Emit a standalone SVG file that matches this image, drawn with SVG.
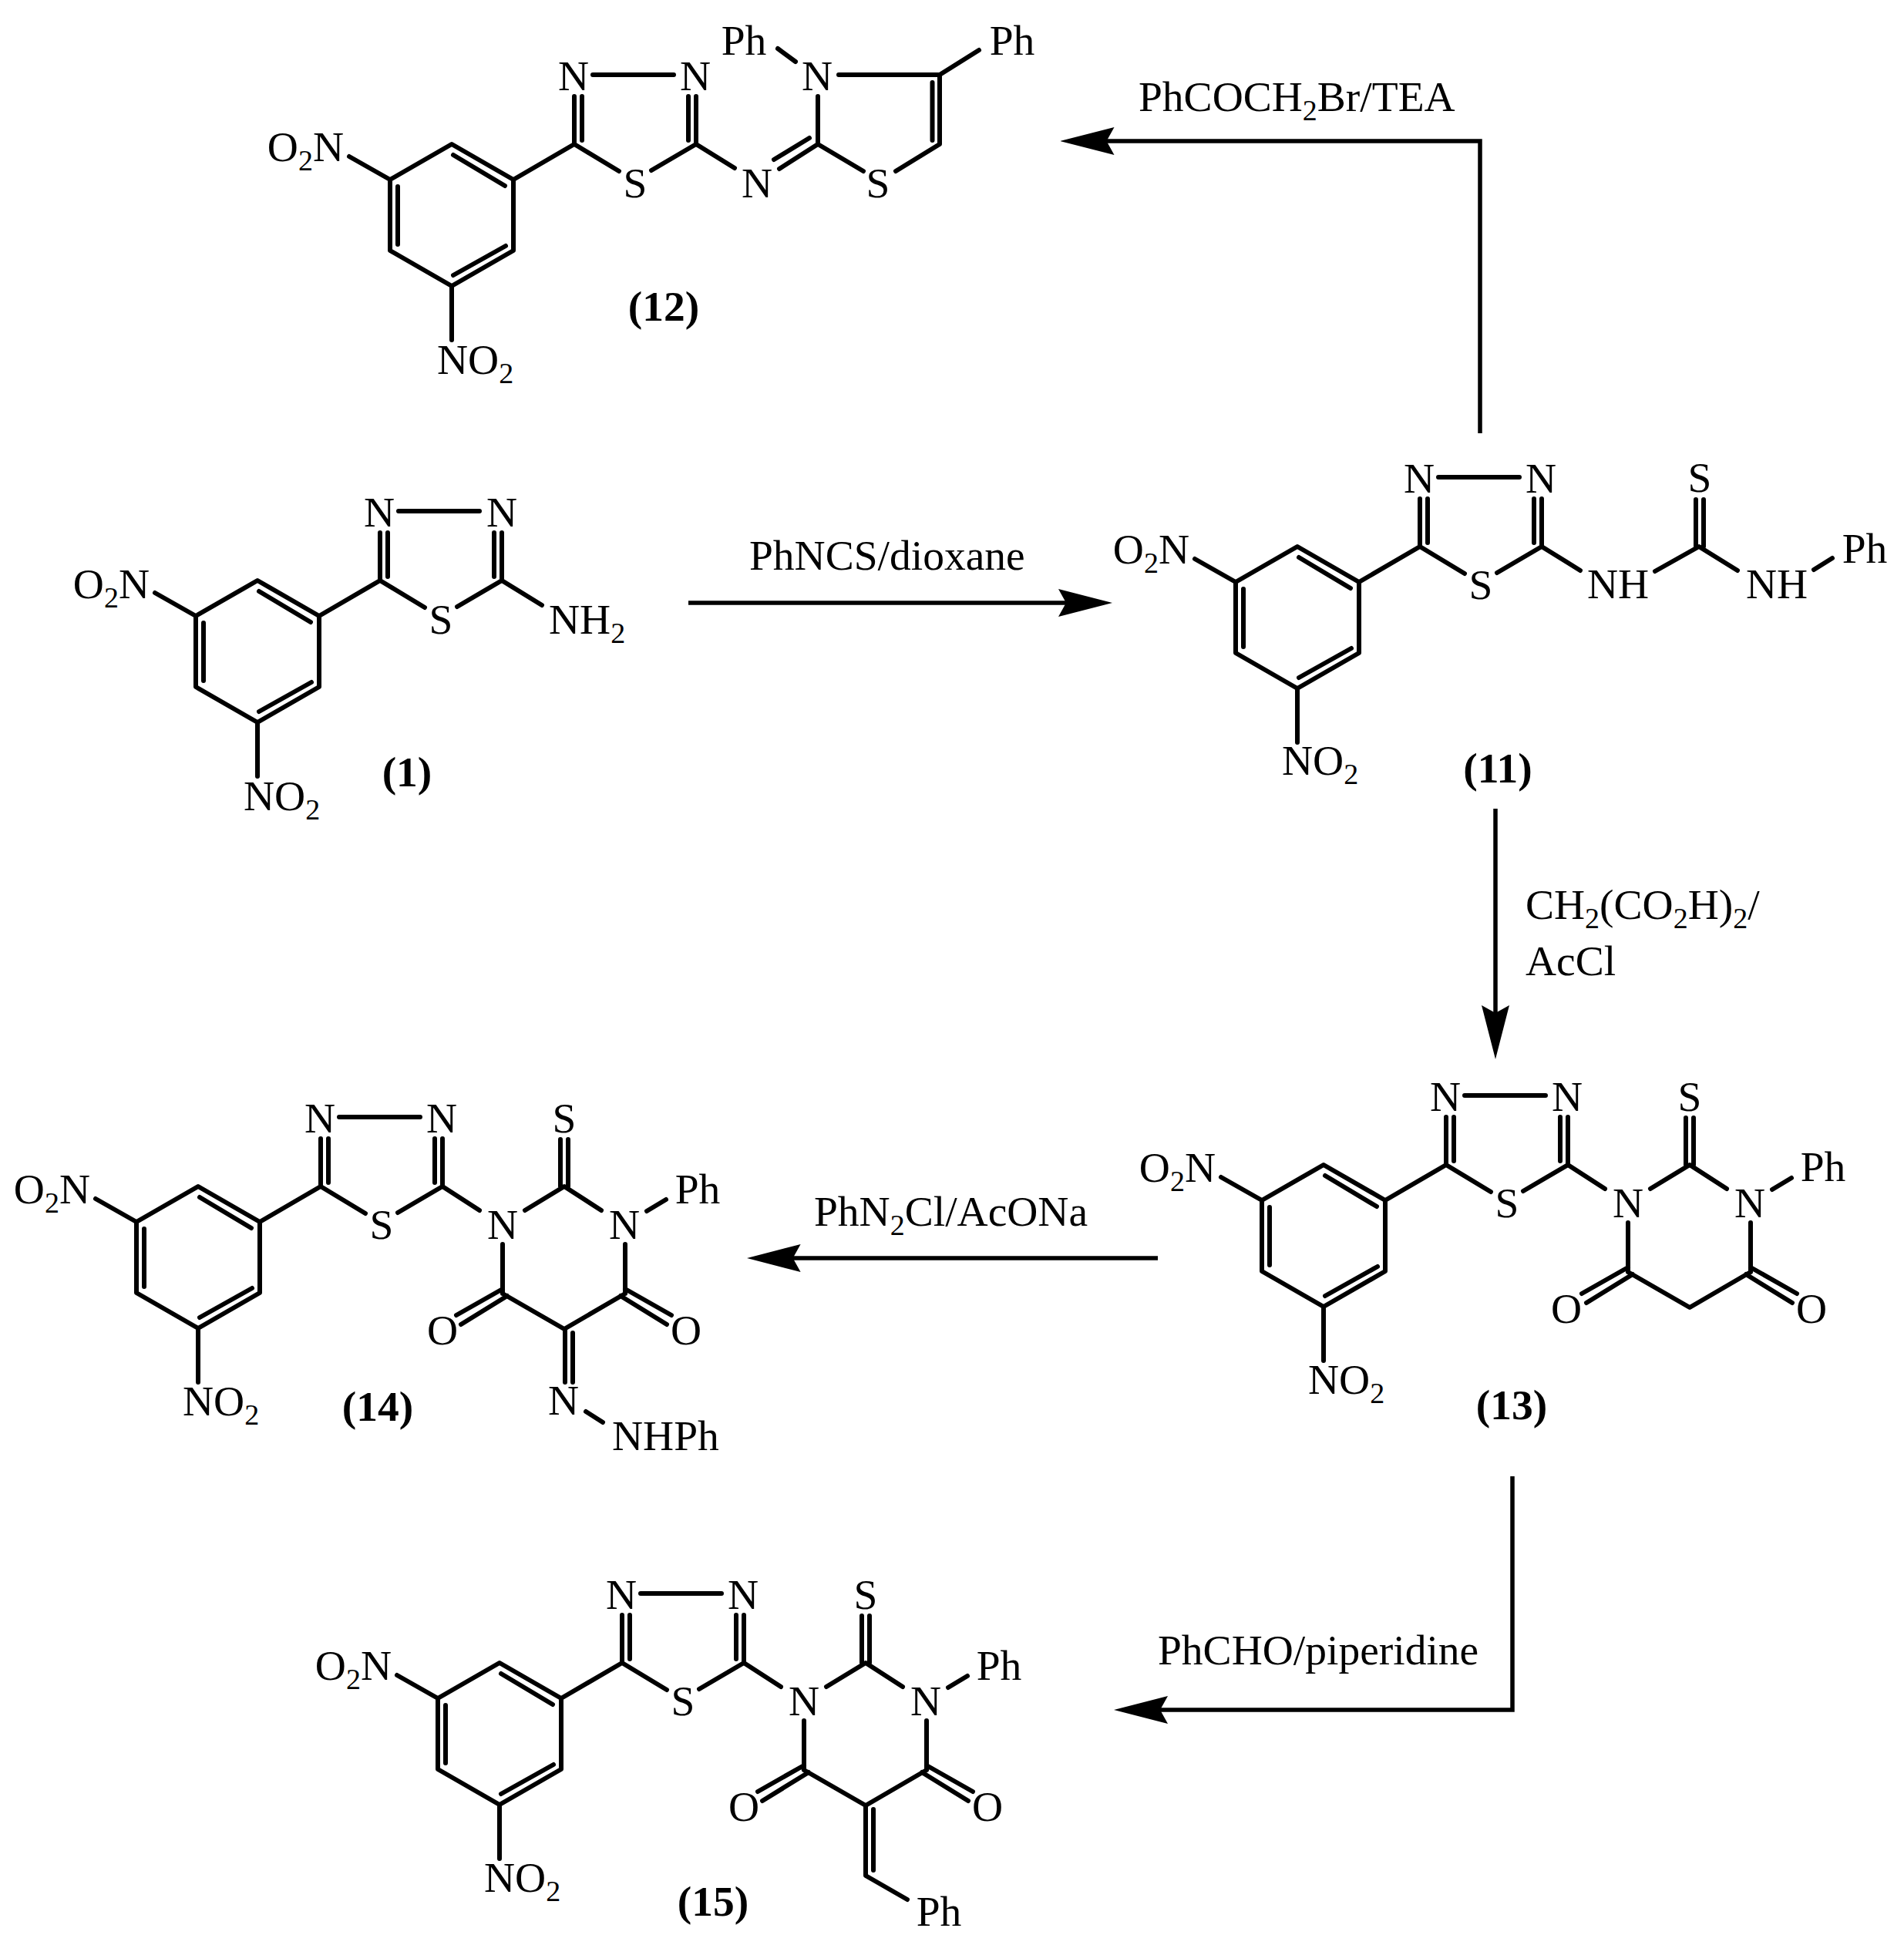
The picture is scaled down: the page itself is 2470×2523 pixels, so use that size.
<svg xmlns="http://www.w3.org/2000/svg" width="2470" height="2523" viewBox="0 0 2470 2523">
<style>
text{font-family:"Liberation Serif","Times New Roman",serif;font-size:55.5px;fill:#000}
.m{text-anchor:middle}
.e{text-anchor:end}
.l{font-weight:bold;text-anchor:middle}
.s{font-size:38px}
.b{fill:none;stroke:#000;stroke-width:6;stroke-linecap:round;stroke-linejoin:round}
.c{fill:none;stroke:#000;stroke-width:5.5;stroke-linejoin:miter}
</style>
<defs>
<marker id="arrow" markerUnits="userSpaceOnUse" viewBox="0 0 70 36" markerWidth="70" markerHeight="36" refX="12" refY="18" orient="auto"><path d="M0 0L70 18L0 36L10 18Z" fill="#000"/></marker>
<path id="core" class="b" d="M0 0L80 46L80 138L0 184L-80 138L-80 46ZM2 14L69 54M-70 55L-70 130M2 170L70 132M-80 46L-133 16M0 184L0 254M80 46L159 0L159 -62M169 -5L169 -62M159 0L217 35M317 0L259 34M317 0L317 -62M307 -5L307 -62M183 -90L288 -90"/>
<path id="ring" class="b" d="M317 0L365 31M424 31L475 0L523 31M470 0L470 -61M480 0L480 -61M582 32L607 17M395 75L395 139M554 75L554 139M395 139L475 185L554 139M395 133L335 167M401 142L341 179M554 133L614 167M548 142L608 179"/>
</defs>
<g id="connectors">
<path class="c" marker-end="url(#arrow)" d="M1920 562L1920 183L1433.500 183"/>
<path class="c" marker-end="url(#arrow)" d="M893 782L1385 782"/>
<path class="c" marker-end="url(#arrow)" d="M1940 1049L1940 1316"/>
<path class="c" marker-end="url(#arrow)" d="M1502 1632L1026.600 1632"/>
<path class="c" marker-end="url(#arrow)" d="M1962 1915L1962 2218L1503 2218"/>
<text x="1477" y="144">PhCOCH<tspan class="s" dy="12">2</tspan><tspan dy="-12">Br/TEA</tspan></text>
<text x="972" y="739">PhNCS/dioxane</text>
<text x="1979" y="1192">CH<tspan class="s" dy="12">2</tspan><tspan dy="-12">(CO</tspan><tspan class="s" dy="12">2</tspan><tspan dy="-12">H)</tspan><tspan class="s" dy="12">2</tspan><tspan dy="-12">/</tspan></text>
<text x="1979" y="1265">AcCl</text>
<text x="1056" y="1590">PhN<tspan class="s" dy="12">2</tspan><tspan dy="-12">Cl/AcONa</tspan></text>
<text x="1502" y="2159">PhCHO/piperidine</text>
</g>
<g id="compound-12" transform="translate(586 187)">
<use href="#core"/>
<path class="b" d="M317 0L367 31M475 0L425 32M418 20L464 -8M475 0L475 -62M475 0L534 35M576 35L633 0L633 -90L502 -90M623.500 -5L623.500 -80M633 -90L684 -122M446 -107L423 -124"/>
<text class="e" x="-140" y="22">O<tspan class="s" dy="12">2</tspan><tspan dy="-12">N</tspan></text>
<text x="-19" y="298">NO<tspan class="s" dy="12">2</tspan></text>
<text class="m" x="158" y="-70">N</text><text class="m" x="316" y="-70">N</text><text class="m" x="238" y="69">S</text>
<text class="m" x="396" y="69">N</text><text class="m" x="553" y="69">S</text><text class="m" x="474" y="-70">N</text>
<text class="m" x="379" y="-116">Ph</text><text class="m" x="727" y="-116">Ph</text>
<text class="l" x="275" y="229">(12)</text>
</g>
<g id="compound-1" transform="translate(334 753)">
<use href="#core"/>
<path class="b" d="M317 0L369 32"/>
<text class="e" x="-140" y="23">O<tspan class="s" dy="12">2</tspan><tspan dy="-12">N</tspan></text>
<text x="-18" y="298">NO<tspan class="s" dy="12">2</tspan></text>
<text class="m" x="158" y="-70">N</text><text class="m" x="317" y="-70">N</text><text class="m" x="238" y="69">S</text>
<text x="378" y="69">NH<tspan class="s" dy="12">2</tspan></text>
<text class="l" x="194" y="267">(1)</text>
</g>
<g id="compound-11" transform="translate(1683 709)">
<use href="#core"/>
<path class="b" d="M317 0L367 31M464 32L521 0L571 31M517 0L517 -61M527 0L527 -61M670 30L694 15"/>
<text class="e" x="-140" y="22">O<tspan class="s" dy="12">2</tspan><tspan dy="-12">N</tspan></text>
<text x="-20" y="296">NO<tspan class="s" dy="12">2</tspan></text>
<text class="m" x="158" y="-70">N</text><text class="m" x="316" y="-70">N</text><text class="m" x="238" y="68">S</text>
<text class="m" x="416" y="67">NH</text><text class="m" x="622" y="67">NH</text>
<text class="m" x="522" y="-71">S</text><text class="m" x="736" y="21">Ph</text>
<text class="l" x="260" y="306">(11)</text>
</g>
<g id="compound-13" transform="translate(1717 1511)">
<use href="#core"/>
<use href="#ring"/>
<text class="e" x="-140" y="22">O<tspan class="s" dy="12">2</tspan><tspan dy="-12">N</tspan></text>
<text x="-20" y="297">NO<tspan class="s" dy="12">2</tspan></text>
<text class="m" x="158" y="-70">N</text><text class="m" x="316" y="-70">N</text><text class="m" x="238" y="68">S</text>
<text class="m" x="395" y="68">N</text><text class="m" x="553" y="68">N</text>
<text class="m" x="475" y="-70">S</text><text class="m" x="648" y="21">Ph</text>
<text class="m" x="315" y="205">O</text><text class="m" x="633" y="205">O</text>
<text class="l" x="244" y="330">(13)</text>
</g>
<g id="compound-14" transform="translate(257 1539)">
<use href="#core"/>
<use href="#ring"/>
<path class="b" d="M476 185L476 254M486 190L486 254M503 292L525 306"/>
<text class="e" x="-140" y="22">O<tspan class="s" dy="12">2</tspan><tspan dy="-12">N</tspan></text>
<text x="-20" y="297">NO<tspan class="s" dy="12">2</tspan></text>
<text class="m" x="158" y="-70">N</text><text class="m" x="316" y="-70">N</text><text class="m" x="238" y="68">S</text>
<text class="m" x="395" y="68">N</text><text class="m" x="553" y="68">N</text>
<text class="m" x="475" y="-70">S</text><text class="m" x="648" y="22">Ph</text>
<text class="m" x="317" y="205">O</text><text class="m" x="633" y="205">O</text>
<text class="m" x="474" y="296">N</text><text x="537" y="342">NHPh</text>
<text class="l" x="233" y="304">(14)</text>
</g>
<g id="compound-15" transform="translate(648 2157)">
<use href="#core"/>
<use href="#ring"/>
<path class="b" d="M475 185L475 276L529 307M485 190L485 269"/>
<text class="e" x="-140" y="22">O<tspan class="s" dy="12">2</tspan><tspan dy="-12">N</tspan></text>
<text x="-20" y="297">NO<tspan class="s" dy="12">2</tspan></text>
<text class="m" x="158" y="-70">N</text><text class="m" x="316" y="-70">N</text><text class="m" x="238" y="68">S</text>
<text class="m" x="395" y="68">N</text><text class="m" x="553" y="68">N</text>
<text class="m" x="475" y="-70">S</text><text class="m" x="648" y="22">Ph</text>
<text class="m" x="317" y="205">O</text><text class="m" x="633" y="205">O</text>
<text class="m" x="570" y="341">Ph</text>
<text class="l" x="277" y="328">(15)</text>
</g>
</svg>
